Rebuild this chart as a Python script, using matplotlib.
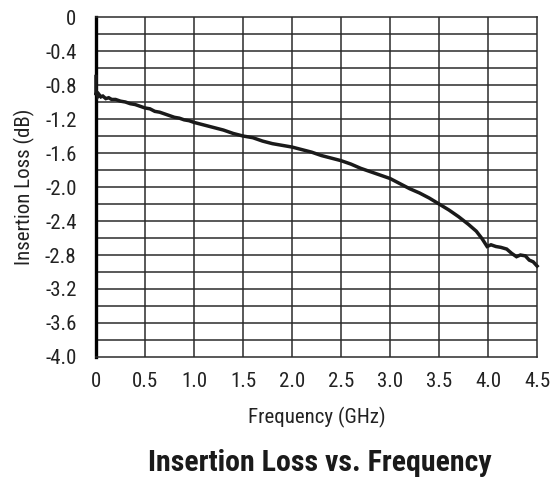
import numpy as np
import matplotlib
matplotlib.use("Agg")
from matplotlib import pyplot as plt
from matplotlib import font_manager as fm

# Datos (frecuencia en GHz, perdida en dB)
freq = [0.0, 0.0, 0.01, 0.02, 0.03, 0.05, 0.07, 0.10, 0.13, 0.16, 0.20, 0.25,
        0.30, 0.35, 0.40, 0.45, 0.50, 0.55, 0.60, 0.65, 0.70, 0.75, 0.80,
        0.85, 0.90, 0.95, 1.00, 1.10, 1.20, 1.30, 1.40, 1.50, 1.60, 1.70,
        1.80, 1.90, 2.00, 2.10, 2.20, 2.30, 2.40, 2.50, 2.60, 2.70, 2.80,
        2.90, 3.00, 3.10, 3.20, 3.30, 3.40, 3.50, 3.60, 3.70, 3.80, 3.88,
        3.94, 3.99, 4.03, 4.08, 4.13, 4.19, 4.24, 4.29, 4.33, 4.38, 4.42,
        4.46, 4.50]
loss = [-0.70, -0.92, -0.88, -0.93, -0.91, -0.94, -0.93, -0.96, -0.95, -0.97,
        -0.97, -0.99, -1.00, -1.02, -1.03, -1.05, -1.07, -1.08, -1.11, -1.12,
        -1.14, -1.16, -1.18, -1.19, -1.21, -1.22, -1.24, -1.27, -1.30, -1.33,
        -1.37, -1.40, -1.42, -1.46, -1.49, -1.51, -1.53, -1.56, -1.59, -1.63,
        -1.66, -1.69, -1.73, -1.78, -1.82, -1.86, -1.90, -1.96, -2.02, -2.07,
        -2.13, -2.20, -2.27, -2.35, -2.44, -2.52, -2.61, -2.70, -2.68, -2.70,
        -2.71, -2.73, -2.78, -2.82, -2.80, -2.81, -2.86, -2.88, -2.93]

xticks = [0, 0.5, 1.0, 1.5, 2.0, 2.5, 3.0, 3.5, 4.0, 4.5]
xlabels = ['0', '0.5', '1.0', '1.5', '2.0', '2.5', '3.0', '3.5', '4.0', '4.5']
yticks = [0, -0.4, -0.8, -1.2, -1.6, -2.0, -2.4, -2.8, -3.2, -3.6, -4.0]
ylabels = ['0', '-0.4', '-0.8', '-1.2', '-1.6', '-2.0', '-2.4', '-2.8',
           '-3.2', '-3.6', '-4.0']

# Fuente angosta si existe
nombres = set(f.name for f in fm.fontManager.ttflist)
fuente = 'DejaVu Sans'
for f in ['Roboto Condensed', 'Liberation Sans Narrow', 'Roboto', 'Liberation Sans']:
    if f in nombres:
        fuente = f
        break
plt.rcParams['font.family'] = [fuente, 'DejaVu Sans']

fig = plt.figure(figsize=(5.5, 4.79), dpi=100)
ax = fig.add_axes([0.1745, 0.2547, 0.802, 0.7098])

# Rejilla
for xv in np.arange(0.5, 4.5, 0.5):
    ax.axvline(xv, color='#2b2b2b', lw=1.1, zorder=1)
for yv in np.arange(-3.8, 0.0, 0.2):
    ax.axhline(yv, color='#2b2b2b', lw=1.1, zorder=1)

ax.plot(freq, loss, color='#1a1a1a', lw=2.5, zorder=3, clip_on=False,
        solid_joinstyle='miter')

ax.set_xlim(0, 4.5)
ax.set_ylim(-4.0, 0)
ax.set_xticks(xticks)
ax.set_xticklabels(xlabels)
ax.set_yticks(yticks)
ax.set_yticklabels(ylabels)
ax.tick_params(length=0, labelsize=15, colors='#222222')
ax.tick_params(axis='y', pad=14)
ax.tick_params(axis='x', pad=11)

for lado in ['top', 'right', 'bottom']:
    ax.spines[lado].set_color('#2b2b2b')
    ax.spines[lado].set_linewidth(1.1)
ax.spines['left'].set_color('black')
ax.spines['left'].set_linewidth(2.4)

ax.set_xlabel('Frequency (GHz)', fontsize=15, color='#222222', labelpad=11)
ax.set_ylabel('Insertion Loss (dB)', fontsize=15, color='#222222', labelpad=7)

fig.text(0.582, 0.016, 'Insertion Loss vs. Frequency', fontsize=21.5,
         fontweight='bold', ha='center', color='#1a1a1a')

fig.savefig('out.png', dpi=100)
